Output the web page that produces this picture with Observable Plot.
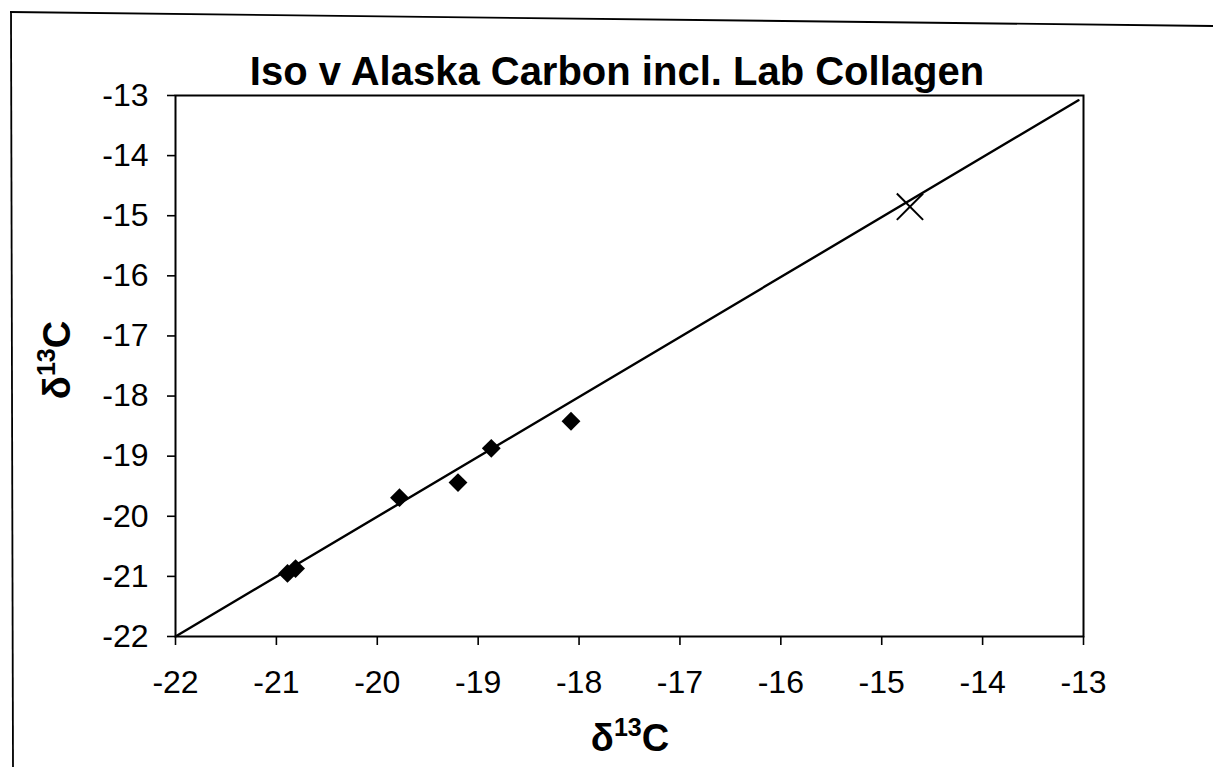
<!DOCTYPE html>
<html><head><meta charset="utf-8">
<script src="https://cdn.jsdelivr.net/npm/d3@7"></script>
<script src="https://cdn.jsdelivr.net/npm/@observablehq/plot@0.6"></script>
<style>
body{margin:0;background:#fff;}
#wrap{position:relative;width:1213px;height:767px;overflow:hidden;background:#fff;}
#wrap svg{position:absolute;left:0;top:0;}
</style>
</head><body>
<div id="wrap"></div>
<script>
// Data
const sampleX = [-20.89, -20.81, -19.78, -19.20, -18.87, -18.08];
const sampleY = [-20.95, -20.87, -19.69, -19.44, -18.87, -18.42];
const labX = [-14.72];
const labY = [-14.85];
const fitX = [-22, -13.05];
const fitY = [-22, -13.08];
const tickValues = [-22, -21, -20, -19, -18, -17, -16, -15, -14, -13];
const titleText = "Iso v Alaska Carbon incl. Lab Collagen";
const axisBase = "δ";
const axisSup = "13";
const axisTail = "C";

const samples = sampleX.map((x, i) => ({x, y: sampleY[i]}));
const lab = labX.map((x, i) => ({x, y: labY[i]}));
const fit = fitX.map((x, i) => ({x, y: fitY[i]}));

const chart = Plot.plot({
  width: 1213,
  height: 767,
  marginLeft: 175,
  marginRight: 130,
  marginTop: 95,
  marginBottom: 131,
  style: {fontFamily: "'Liberation Sans', Arial, sans-serif", fontSize: "32px", color: "#000", background: "transparent"},
  x: {domain: [-22, -13]},
  y: {domain: [-22, -13]},
  marks: [
    Plot.frame({stroke: "#000", strokeWidth: 2}),
    Plot.axisX({ticks: tickValues, tickSize: 9, tickPadding: 25, tickFormat: d => String(d), label: null, fontSize: 32, strokeWidth: 1.6}),
    Plot.axisY({ticks: tickValues, tickSize: 8, tickPadding: 19, tickFormat: d => String(d), label: null, fontSize: 32, strokeWidth: 1.6}),
    Plot.line(fit, {x: "x", y: "y", stroke: "#000", strokeWidth: 2.4}),
    Plot.dot(samples, {x: "x", y: "y", symbol: "diamond2", r: 8.5, fill: "#000", stroke: "none"}),
    Plot.dot(lab, {x: "x", y: "y", symbol: "times", r: 12, stroke: "#000", strokeWidth: 2, fill: "none"})
  ]
});
document.getElementById("wrap").appendChild(chart);

// Overlay: title, axis labels and scan frame edges
const ns = "http://www.w3.org/2000/svg";
const ov = document.createElementNS(ns, "svg");
ov.setAttribute("width", 1213);
ov.setAttribute("height", 767);
ov.setAttribute("font-family", "'Liberation Sans', Arial, sans-serif");
ov.innerHTML = `
  <line x1="10" y1="12" x2="1213" y2="26" stroke="#000" stroke-width="1.8"/>
  <line x1="11" y1="12" x2="13" y2="767" stroke="#000" stroke-width="1.8"/>
  <text x="617" y="85" text-anchor="middle" font-weight="bold" font-size="40" fill="#000">${titleText}</text>
  <text x="630" y="751" text-anchor="middle" font-weight="bold" font-size="38" fill="#000">${axisBase}<tspan font-size="25" dy="-15">${axisSup}</tspan><tspan dy="15">${axisTail}</tspan></text>
  <text transform="translate(70,360) rotate(-90)" text-anchor="middle" font-weight="bold" font-size="38" fill="#000">${axisBase}<tspan font-size="25" dy="-15">${axisSup}</tspan><tspan dy="15">${axisTail}</tspan></text>
`;
document.getElementById("wrap").appendChild(ov);
</script>
</body></html>
